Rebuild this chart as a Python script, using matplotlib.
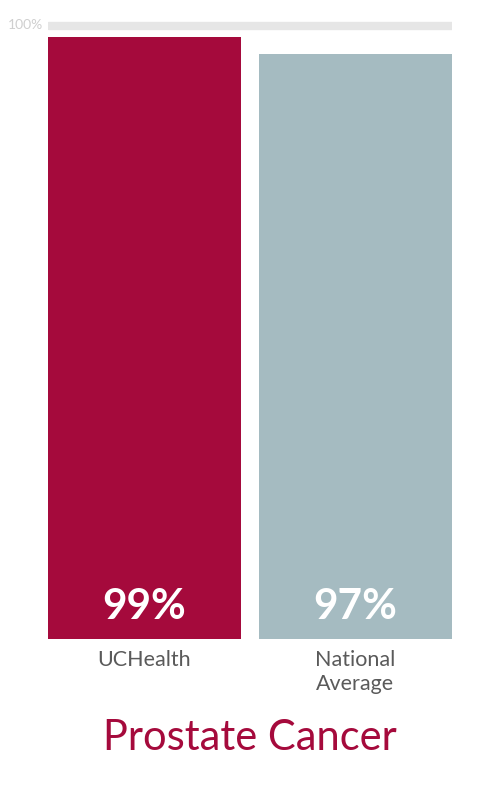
import matplotlib.pyplot as plt

categories = ['UCHealth', 'National\nAverage']
values = [99, 97]
value_labels = ['99%', '97%']
bar_colors = ['#a50a3c', '#a5bbc1']
title = 'Prostate Cancer'

plt.rcParams['font.family'] = ['Lato', 'DejaVu Sans']

fig = plt.figure(figsize=(5, 8), dpi=100)
ax = fig.add_axes([0.096, 0.20125, 0.808, 0.77375])

x = list(range(len(values)))
ax.bar(x, values, width=0.915, color=bar_colors, zorder=2)

# thick light-grey 100% band
ax.axhspan(100, 100.8, color='#e6e6e6', zorder=1)
ax.text(-0.48, 100.4, '100%', ha='right', va='center', fontsize=10, color='#cfcfcf')

ax.set_xlim(-0.4575, 1.4575)
ax.set_ylim(28.18, 101)

for xi, lab in zip(x, value_labels):
    ax.text(xi, 31.9, lab, ha='center', va='center', fontsize=30.5,
            color='white', fontweight='bold')

ax.set_xticks(x)
ax.set_xticklabels(categories, fontsize=15.5, color='#5a5a5a', linespacing=1.25)
ax.tick_params(axis='x', length=0, pad=8)
ax.set_yticks([])
for s in ax.spines.values():
    s.set_visible(False)

fig.text(0.5, 0.0775, title, ha='center', va='center', fontsize=30, color='#a50a3c')

fig.savefig('out.png', dpi=100)
plt.close()
